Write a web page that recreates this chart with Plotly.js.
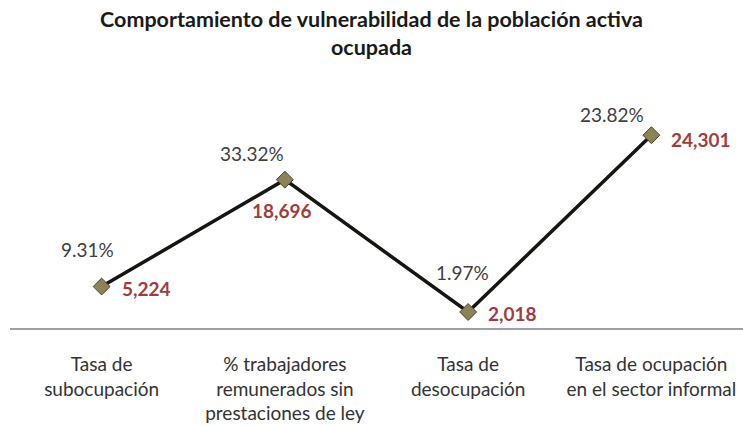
<!DOCTYPE html>
<html>
<head>
<meta charset="utf-8">
<script src="https://cdn.plot.ly/plotly-3.0.1.min.js"></script>
<style>html,body{margin:0;padding:0;background:#fff;}#chart{width:743px;height:426px;}</style>
</head>
<body>
<div id="chart"></div>
<script>
var categories = [
  "Tasa de<br>subocupación",
  "% trabajadores<br>remunerados sin<br>prestaciones de ley",
  "Tasa de<br>desocupación",
  "Tasa de ocupación<br>en el sector informal"
];
var values = [5224, 18696, 2018, 24301];
var valueLabels = ["5,224", "18,696", "2,018", "24,301"];
var percentLabels = ["9.31%", "33.32%", "1.97%", "23.82%"];

// label offsets (style only)
var pctShift = [[-14, 37], [-33, 26], [-6, 39], [-39, 21]];
var valShift = [[45, -2], [-3, -31], [44, -2], [50, -4]];

var annotations = [];
for (var i = 0; i < categories.length; i++) {
  annotations.push({
    x: i, y: values[i], xref: "x", yref: "y", text: percentLabels[i],
    showarrow: false, xshift: pctShift[i][0], yshift: pctShift[i][1],
    font: {family: "Lato, 'Open Sans', sans-serif", size: 19, color: "#404040"}
  });
  annotations.push({
    x: i, y: values[i], xref: "x", yref: "y", text: "<b>" + valueLabels[i] + "</b>",
    showarrow: false, xshift: valShift[i][0], yshift: valShift[i][1],
    font: {family: "Lato, 'Open Sans', sans-serif", size: 19, color: "#a23b3e"}
  });
}

var trace = {
  x: [0, 1, 2, 3],
  y: values,
  type: "scatter",
  mode: "lines+markers",
  line: {color: "#161511", width: 3.5},
  marker: {symbol: "diamond", size: 13, color: "#8c8256", line: {color: "#4a4530", width: 1}},
  hoverinfo: "none",
  cliponaxis: false
};

var layout = {
  width: 743, height: 426,
  margin: {l: 10, r: 0, t: 90, b: 98},
  paper_bgcolor: "#ffffff", plot_bgcolor: "#ffffff",
  showlegend: false,
  title: {
    text: "<b>Comportamiento de vulnerabilidad de la población activa<br>ocupada</b>",
    x: 0.5, xanchor: "center", y: 0.937, yanchor: "top",
    font: {family: "Lato, 'Open Sans', sans-serif", size: 21.5, color: "#1a1a1a"}
  },
  xaxis: {
    range: [-0.5, 3.5],
    tickmode: "array", tickvals: [0, 1, 2, 3], ticktext: categories,
    showgrid: false, zeroline: false, showline: true, linecolor: "#a0a0a0", linewidth: 2,
    ticks: "", ticklabelstandoff: 18,
    tickfont: {family: "Lato, 'Open Sans', sans-serif", size: 19, color: "#333333"},
    fixedrange: true
  },
  yaxis: {
    range: [0, 30000],
    showgrid: false, zeroline: false, showline: false, showticklabels: false, ticks: "",
    fixedrange: true
  },
  annotations: annotations
};

Plotly.newPlot("chart", [trace], layout, {displayModeBar: false, staticPlot: true});
</script>
</body>
</html>
